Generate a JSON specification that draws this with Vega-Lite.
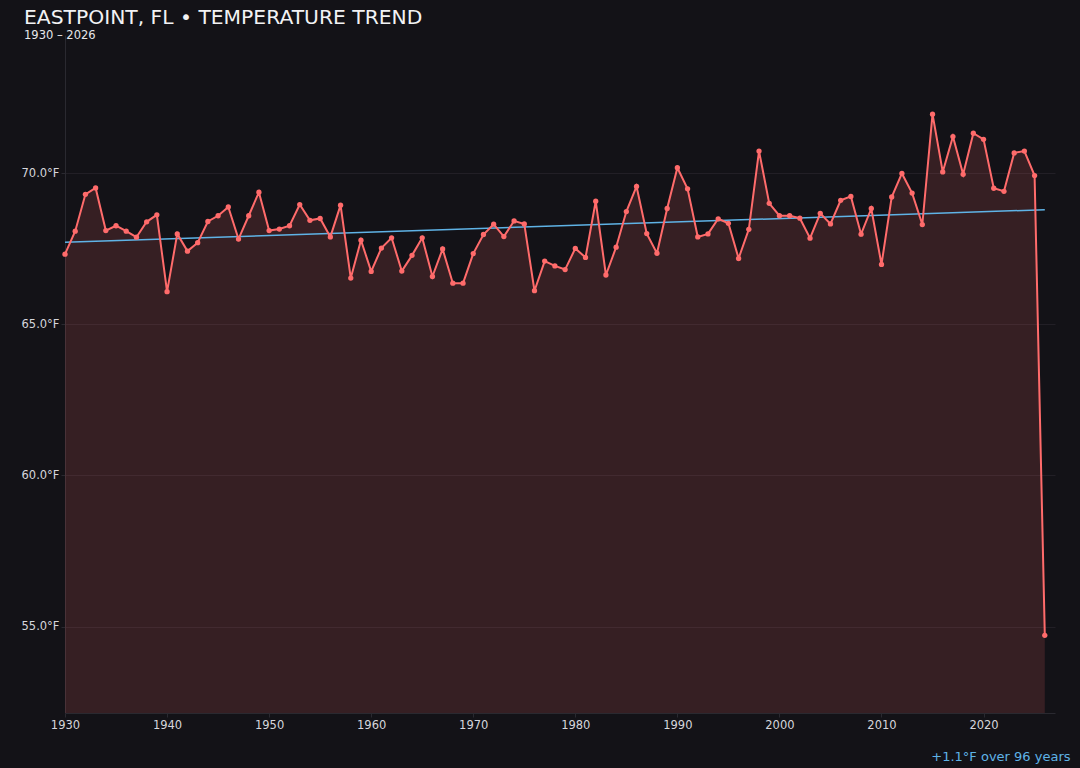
{
  "$schema": "https://vega.github.io/schema/vega-lite/v6.json",
  "width": 990,
  "height": 678,
  "autosize": {"type": "none"},
  "padding": {"left": 65, "top": 35, "right": 25, "bottom": 55},
  "background": "#131217",
  "title": {
    "text": "EASTPOINT, FL • TEMPERATURE TREND",
    "subtitle": "1930 – 2026",
    "anchor": "start",
    "frame": "group",
    "dx": -41,
    "dy": 6,
    "offset": 0,
    "font": "DejaVu Sans",
    "fontSize": 20.3,
    "fontWeight": "normal",
    "color": "#f2f2f4",
    "subtitleFont": "DejaVu Sans",
    "subtitleFontSize": 11.5,
    "subtitleColor": "#e6e6ea",
    "subtitlePadding": 1
  },
  "datasets": {
    "temps": [
      {"year": 1930, "temp": 67.32}, {"year": 1931, "temp": 68.08}, {"year": 1932, "temp": 69.30},
      {"year": 1933, "temp": 69.51}, {"year": 1934, "temp": 68.10}, {"year": 1935, "temp": 68.26},
      {"year": 1936, "temp": 68.08}, {"year": 1937, "temp": 67.88}, {"year": 1938, "temp": 68.39},
      {"year": 1939, "temp": 68.62}, {"year": 1940, "temp": 66.08}, {"year": 1941, "temp": 67.99},
      {"year": 1942, "temp": 67.42}, {"year": 1943, "temp": 67.70}, {"year": 1944, "temp": 68.40},
      {"year": 1945, "temp": 68.59}, {"year": 1946, "temp": 68.88}, {"year": 1947, "temp": 67.82},
      {"year": 1948, "temp": 68.59}, {"year": 1949, "temp": 69.37}, {"year": 1950, "temp": 68.10},
      {"year": 1951, "temp": 68.15}, {"year": 1952, "temp": 68.26}, {"year": 1953, "temp": 68.96},
      {"year": 1954, "temp": 68.44}, {"year": 1955, "temp": 68.50}, {"year": 1956, "temp": 67.89},
      {"year": 1957, "temp": 68.94}, {"year": 1958, "temp": 66.53}, {"year": 1959, "temp": 67.78},
      {"year": 1960, "temp": 66.75}, {"year": 1961, "temp": 67.52}, {"year": 1962, "temp": 67.86},
      {"year": 1963, "temp": 66.76}, {"year": 1964, "temp": 67.28}, {"year": 1965, "temp": 67.86},
      {"year": 1966, "temp": 66.58}, {"year": 1967, "temp": 67.49}, {"year": 1968, "temp": 66.36},
      {"year": 1969, "temp": 66.36}, {"year": 1970, "temp": 67.34}, {"year": 1971, "temp": 67.97},
      {"year": 1972, "temp": 68.31}, {"year": 1973, "temp": 67.90}, {"year": 1974, "temp": 68.42},
      {"year": 1975, "temp": 68.32}, {"year": 1976, "temp": 66.11}, {"year": 1977, "temp": 67.09},
      {"year": 1978, "temp": 66.93}, {"year": 1979, "temp": 66.81}, {"year": 1980, "temp": 67.51},
      {"year": 1981, "temp": 67.21}, {"year": 1982, "temp": 69.07}, {"year": 1983, "temp": 66.63},
      {"year": 1984, "temp": 67.55}, {"year": 1985, "temp": 68.73}, {"year": 1986, "temp": 69.56},
      {"year": 1987, "temp": 68.00}, {"year": 1988, "temp": 67.35}, {"year": 1989, "temp": 68.83},
      {"year": 1990, "temp": 70.18}, {"year": 1991, "temp": 69.48}, {"year": 1992, "temp": 67.89},
      {"year": 1993, "temp": 67.99}, {"year": 1994, "temp": 68.49}, {"year": 1995, "temp": 68.34},
      {"year": 1996, "temp": 67.18}, {"year": 1997, "temp": 68.14}, {"year": 1998, "temp": 70.73},
      {"year": 1999, "temp": 69.00}, {"year": 2000, "temp": 68.59}, {"year": 2001, "temp": 68.59},
      {"year": 2002, "temp": 68.51}, {"year": 2003, "temp": 67.85}, {"year": 2004, "temp": 68.67},
      {"year": 2005, "temp": 68.32}, {"year": 2006, "temp": 69.10}, {"year": 2007, "temp": 69.23},
      {"year": 2008, "temp": 67.98}, {"year": 2009, "temp": 68.83}, {"year": 2010, "temp": 66.98},
      {"year": 2011, "temp": 69.21}, {"year": 2012, "temp": 69.99}, {"year": 2013, "temp": 69.34},
      {"year": 2014, "temp": 68.30}, {"year": 2015, "temp": 71.95}, {"year": 2016, "temp": 70.04},
      {"year": 2017, "temp": 71.21}, {"year": 2018, "temp": 69.96}, {"year": 2019, "temp": 71.32},
      {"year": 2020, "temp": 71.12}, {"year": 2021, "temp": 69.50}, {"year": 2022, "temp": 69.40},
      {"year": 2023, "temp": 70.67}, {"year": 2024, "temp": 70.73}, {"year": 2025, "temp": 69.92},
      {"year": 2026, "temp": 54.71}
    ],
    "trend": [
      {"year": 1930, "temp": 67.71},
      {"year": 2026, "temp": 68.79}
    ]
  },
  "data": {"name": "temps"},
  "encoding": {
    "x": {
      "field": "year",
      "type": "quantitative",
      "scale": {"domain": [1930, 2027], "nice": false, "zero": false},
      "axis": {
        "values": [1930, 1940, 1950, 1960, 1970, 1980, 1990, 2000, 2010, 2020],
        "format": "d",
        "grid": false,
        "labelFlush": false,
        "title": "+1.1°F over 96 years",
        "titleColor": "#5fb3e6",
        "titleFont": "DejaVu Sans",
        "titleFontSize": 13,
        "titleFontWeight": "normal",
        "titleAnchor": "end",
        "titleAlign": "right",
        "titleBaseline": "alphabetic",
        "titleX": 1005,
        "titleY": 47
      }
    },
    "y": {
      "field": "temp",
      "type": "quantitative",
      "scale": {"domain": [52.14, 74.57], "nice": false, "zero": false},
      "axis": {
        "values": [55, 60, 65, 70],
        "labelExpr": "format(datum.value, '.1f') + '°F'",
        "title": null,
        "grid": true
      }
    }
  },
  "layer": [
    {
      "mark": {"type": "area", "color": "#ff6b6b", "opacity": 0.15, "clip": true}
    },
    {
      "data": {"name": "trend"},
      "mark": {"type": "line", "color": "#5fb3e6", "strokeWidth": 1.5}
    },
    {
      "mark": {"type": "line", "color": "#ff6b6b", "strokeWidth": 2, "point": {"filled": true, "size": 28, "color": "#ff6b6b"}}
    }
  ],
  "config": {
    "view": {"stroke": null},
    "font": "DejaVu Sans",
    "axis": {
      "labelColor": "#d6d6dc",
      "labelFont": "DejaVu Sans",
      "labelFontSize": 11.5,
      "domainColor": "#2a2930",
      "tickColor": "#2a2930",
      "tickSize": 4,
      "gridColor": "#221f26",
      "gridWidth": 1
    }
  }
}
